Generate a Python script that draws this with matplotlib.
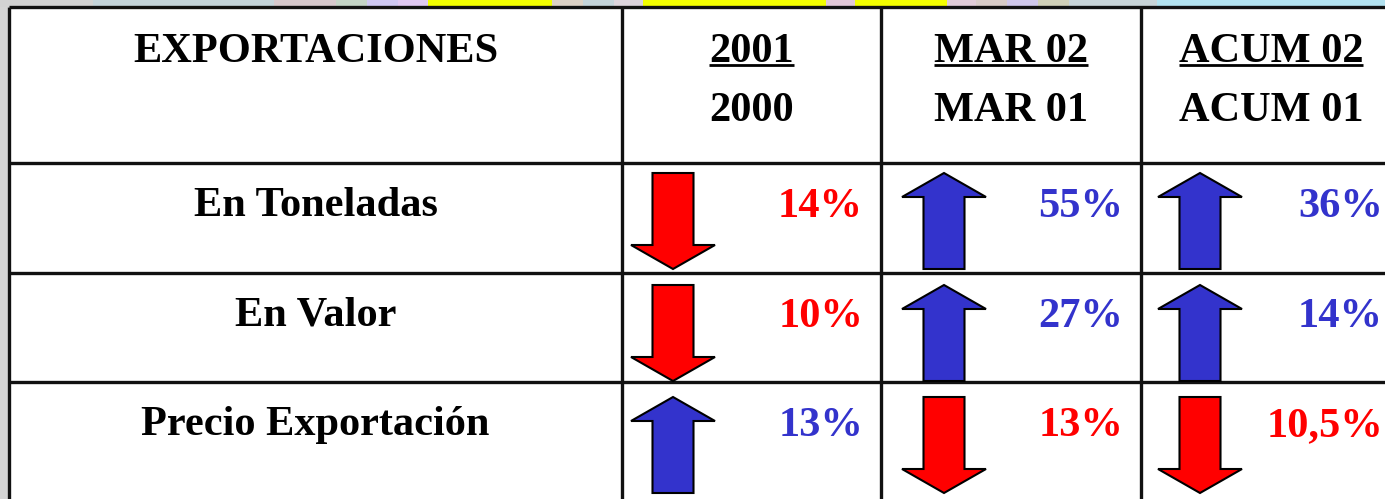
import matplotlib
matplotlib.use("Agg")
import matplotlib.pyplot as plt
from matplotlib.patches import Polygon, Rectangle

# ---------------- data ----------------
title = "EXPORTACIONES"
row_labels = ["En Toneladas", "En Valor", "Precio Exportación"]
col_top = ["2001", "MAR 02", "ACUM 02"]
col_bottom = ["2000", "MAR 01", "ACUM 01"]
# percent change per row (columns: 2001/2000, MAR02/MAR01, ACUM02/ACUM01)
toneladas = [-14, 55, 36]
valor = [-10, 27, 14]
precio = [13, -13, -10.5]
values = [toneladas, valor, precio]

# decorative top strip (start px, end px, colour)
strip_starts = [0, 93, 274, 336, 367, 398, 428, 552, 583, 614, 643, 826, 855, 947, 976, 1007, 1038, 1069, 1157]
strip_ends = [93, 274, 336, 367, 398, 428, 552, 583, 614, 643, 826, 855, 947, 976, 1007, 1038, 1069, 1157, 1385]
strip_colors = ["#d2d2d2", "#c4d4da", "#d6c8cc", "#c4d4c6", "#cfc8f2", "#e0c9f2", "#f2ff00",
                "#dcd2c6", "#c4d4da", "#dcd4dc", "#f4ff00", "#e2c8d8", "#f4ff00", "#e0ccd8",
                "#d8ccc8", "#d0c8ec", "#d0d0b8", "#c8d4d8", "#b2e2f0"]

UP_COLOR = "#3333cc"
DOWN_COLOR = "#ff0000"

# ---------------- layout (pixel units) ----------------
W, H = 1385, 499
col_edges = [9, 622, 881, 1141, 1401]
row_edges = [7, 163, 273, 382, 500]
arrow_cx = [673, 944, 1200]
arrow_top_off = [10, 12, 15]
ARROW_LEN, HEAD_LEN, HEAD_W, SHAFT_W = 96, 24, 84, 41

FONT = "Liberation Serif"
FS = 30.5

fig = plt.figure(figsize=(W / 100, H / 100), dpi=100)
ax = fig.add_axes([0, 0, 1, 1])
ax.set_xlim(0, W)
ax.set_ylim(H, 0)
ax.axis("off")
fig.patch.set_facecolor("white")

# background decorations
ax.add_patch(Rectangle((0, 0), 8, H, facecolor="#d4d4d4", edgecolor="none", zorder=0))
for s, e, c in zip(strip_starts, strip_ends, strip_colors):
    ax.add_patch(Rectangle((s, 0), e - s, 7, facecolor=c, edgecolor="none", zorder=0))

# grid
LW = 2.4
for x in col_edges[:-1]:
    ax.plot([x, x], [row_edges[0], H + 5], color="#111111", lw=LW, solid_capstyle="butt", zorder=3)
for y in row_edges[:-1]:
    ax.plot([col_edges[0], W + 20], [y, y], color="#111111", lw=LW, solid_capstyle="butt", zorder=3)

# header
ax.text((col_edges[0] + col_edges[1]) / 2, 62, title, ha="center", va="baseline",
        fontsize=FS, fontweight="bold", family=FONT, color="black")
top_texts = []
for j in range(3):
    cx = (col_edges[j + 1] + col_edges[j + 2]) / 2
    t = ax.text(cx, 62, col_top[j], ha="center", va="baseline", fontsize=FS,
                fontweight="bold", family=FONT, color="black")
    top_texts.append(t)
    ax.text(cx, 121, col_bottom[j], ha="center", va="baseline", fontsize=FS,
            fontweight="bold", family=FONT, color="black")

# rows
for i, (lab, vals) in enumerate(zip(row_labels, values)):
    top = row_edges[i + 1]
    ax.text((col_edges[0] + col_edges[1]) / 2, top + 53, lab, ha="center", va="baseline",
            fontsize=FS, fontweight="bold", family=FONT, color="black")
    for j, v in enumerate(vals):
        color = UP_COLOR if v > 0 else DOWN_COLOR
        label = f"{abs(v):g}%".replace(".", ",")
        ax.text(col_edges[j + 2] - 18, top + 54, label, ha="right", va="baseline",
                fontsize=FS, fontweight="bold", family=FONT, color=color)
        cx = arrow_cx[j]
        a0 = top + arrow_top_off[i]
        hw, sw = HEAD_W / 2, SHAFT_W / 2
        if v > 0:
            pts = [(cx, a0), (cx + hw, a0 + HEAD_LEN), (cx + sw, a0 + HEAD_LEN),
                   (cx + sw, a0 + ARROW_LEN), (cx - sw, a0 + ARROW_LEN),
                   (cx - sw, a0 + HEAD_LEN), (cx - hw, a0 + HEAD_LEN)]
        else:
            b = a0 + ARROW_LEN - HEAD_LEN
            pts = [(cx - sw, a0), (cx + sw, a0), (cx + sw, b), (cx + hw, b),
                   (cx, a0 + ARROW_LEN), (cx - hw, b), (cx - sw, b)]
        ax.add_patch(Polygon(pts, closed=True, facecolor=color, edgecolor="black",
                             lw=1.5, joinstyle="miter", zorder=4))

# underline the top header texts
fig.canvas.draw()
renderer = fig.canvas.get_renderer()
inv = ax.transData.inverted()
for t in top_texts:
    bb = t.get_window_extent(renderer)
    (x0, _), (x1, _) = inv.transform([(bb.x0, bb.y0), (bb.x1, bb.y1)])
    ax.plot([x0, x1], [65, 65], color="black", lw=2.0, solid_capstyle="butt", zorder=5)

fig.savefig("out.png", dpi=100)
